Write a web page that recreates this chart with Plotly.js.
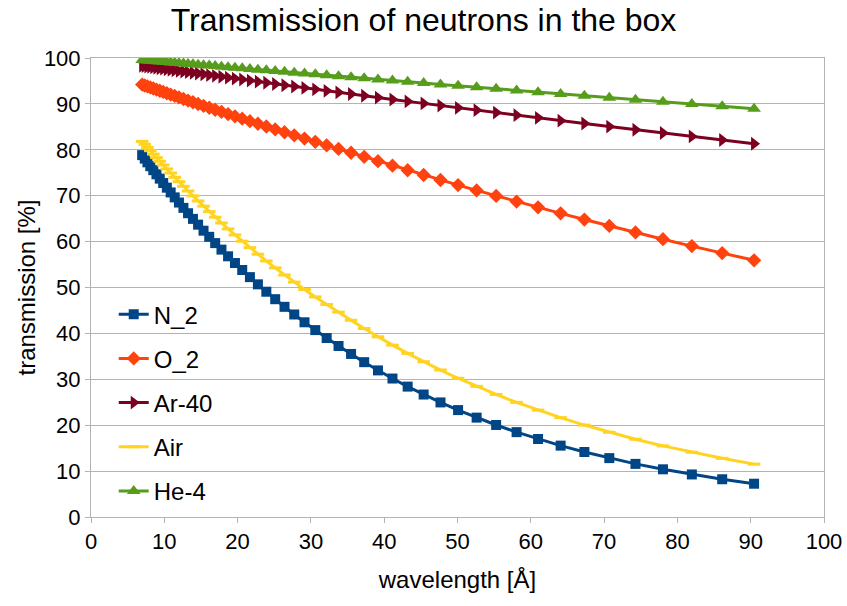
<!DOCTYPE html>
<html>
<head>
<meta charset="utf-8">
<script src="https://cdn.plot.ly/plotly-3.0.1.min.js"></script>
<style>html,body{margin:0;padding:0;background:#fff;}#chart{width:847px;height:606px;}</style>
</head>
<body>
<div id="chart"></div>
<script>
// wavelength [Å]
const wavelength = [6.98, 7.33, 7.70, 8.09, 8.50, 8.93, 9.38, 9.85, 10.35, 10.87,
  11.42, 12.00, 12.61, 13.24, 13.91, 14.61, 15.35, 16.13, 16.94, 17.80,
  18.70, 19.64, 20.63, 21.68, 22.77, 23.92, 25.13, 26.40, 27.73, 29.13,
  30.60, 32.15, 33.77, 35.48, 37.27, 39.15, 41.13, 43.20, 45.38, 47.68,
  50.08, 52.61, 55.27, 58.06, 60.99, 64.07, 67.31, 70.71, 74.28, 78.03,
  81.97, 86.11, 90.46];

// transmission [%]
const n2 = [78.84, 78.08, 77.27, 76.43, 75.56, 74.66, 73.72, 72.76, 71.75, 70.71,
  69.63, 68.51, 67.35, 66.18, 64.95, 63.69, 62.38, 61.04, 59.67, 58.25,
  56.80, 55.33, 53.81, 52.26, 50.69, 49.08, 47.45, 45.79, 44.12, 42.42,
  40.72, 38.99, 37.26, 35.52, 33.73, 31.94, 30.17, 28.41, 26.68, 24.96,
  23.29, 21.65, 20.05, 18.49, 16.99, 15.55, 14.16, 12.83, 11.57, 10.39,
  9.27, 8.22, 7.25];

const o2 = [94.21, 94.01, 93.80, 93.58, 93.35, 93.11, 92.86, 92.60, 92.32, 92.03,
  91.73, 91.41, 91.07, 90.73, 90.36, 89.98, 89.58, 89.16, 88.73, 88.27,
  87.79, 87.30, 86.78, 86.23, 85.67, 85.08, 84.46, 83.82, 83.15, 82.45,
  81.73, 80.97, 80.18, 79.36, 78.46, 77.53, 76.55, 75.55, 74.51, 73.42,
  72.31, 71.16, 69.96, 68.73, 67.46, 66.15, 64.80, 63.41, 61.99, 60.52,
  59.02, 57.49, 55.92];

const ar40 = [98.30, 98.23, 98.14, 98.06, 97.97, 97.87, 97.77, 97.67, 97.56, 97.44,
  97.32, 97.19, 97.06, 96.92, 96.77, 96.62, 96.45, 96.28, 96.11, 95.92,
  95.72, 95.52, 95.31, 95.08, 94.84, 94.60, 94.34, 94.06, 93.78, 93.48,
  93.17, 92.85, 92.50, 92.15, 91.77, 91.38, 90.97, 90.55, 90.10, 89.63,
  89.14, 88.63, 88.10, 87.54, 86.96, 86.35, 85.72, 85.06, 84.38, 83.66,
  82.92, 82.14, 81.33];

const air = [81.84, 81.19, 80.51, 79.81, 79.07, 78.30, 77.51, 76.69, 75.83, 74.94,
  74.01, 73.05, 72.05, 71.03, 69.96, 68.86, 67.72, 66.53, 65.32, 64.06,
  62.77, 61.45, 60.09, 58.68, 57.25, 55.78, 54.27, 52.73, 51.17, 49.57,
  47.95, 46.30, 44.63, 42.86, 41.06, 39.26, 37.44, 35.64, 33.83, 32.02,
  30.23, 28.46, 26.71, 24.98, 23.29, 21.64, 20.03, 18.46, 16.95, 15.50,
  14.11, 12.78, 11.52];

const he4 = [99.56, 99.52, 99.47, 99.41, 99.36, 99.30, 99.24, 99.18, 99.11, 99.04,
  98.97, 98.89, 98.81, 98.72, 98.64, 98.54, 98.44, 98.34, 98.23, 98.12,
  98.00, 97.88, 97.75, 97.61, 97.46, 97.31, 97.15, 96.99, 96.81, 96.63,
  96.44, 96.24, 96.03, 95.80, 95.57, 95.33, 95.08, 94.81, 94.53, 94.24,
  93.93, 93.61, 93.28, 92.93, 92.56, 92.18, 91.78, 91.35, 90.92, 90.46,
  89.98, 89.48, 88.95];

const seriesNames = ["N_2", "O_2", "Ar-40", "Air", "He-4"];
const xTicks = [0, 10, 20, 30, 40, 50, 60, 70, 80, 90, 100];
const yTicks = [0, 10, 20, 30, 40, 50, 60, 70, 80, 90, 100];

const FONT = "Liberation Sans, Arial, sans-serif";
const styles = [
  {color: "#004586", symbol: "square", size: 10},
  {color: "#ff420e", symbol: "diamond", size: 11},
  {color: "#7e0021", symbol: "triangle-right", size: 12},
  {color: "#ffd320", symbol: "line-ew", size: 9},
  {color: "#579d1c", symbol: "triangle-up", size: 12}
];
const values = [n2, o2, ar40, air, he4];

const traces = values.map((ys, i) => {
  const s = styles[i];
  const marker = {color: s.color, symbol: s.symbol, size: s.size};
  if (s.symbol === "line-ew") marker.line = {color: s.color, width: 3};
  else marker.line = {width: 0};
  return {
    type: "scatter", mode: "lines+markers",
    name: seriesNames[i], legendgroup: "g" + i,
    x: wavelength, y: ys,
    line: {color: s.color, width: 3},
    marker: marker
  };
});

const layout = {
  width: 847, height: 606,
  margin: {l: 91, r: 23, t: 58, b: 89},
  paper_bgcolor: "#fff", plot_bgcolor: "#fff",
  font: {family: FONT, color: "#000", size: 22},
  title: {text: "Transmission of neutrons in the box", font: {family: FONT, size: 32, color: "#000"},
          x: 0.5, xref: "container", xanchor: "center", y: 0.968, yref: "container", yanchor: "middle"},
  xaxis: {
    range: [0, 100], tickvals: xTicks, ticktext: xTicks.map(String),
    showgrid: false, zeroline: false,
    showline: true, linecolor: "#b3b3b3", linewidth: 1, mirror: true,
    ticks: "outside", ticklen: 5, tickcolor: "#b3b3b3", tickwidth: 1,
    tickfont: {family: FONT, size: 22, color: "#000"},
    title: {text: "wavelength [Å]", font: {family: FONT, size: 24, color: "#000"}, standoff: 17},
    automargin: false
  },
  yaxis: {
    range: [0, 100], tickvals: yTicks, ticktext: yTicks.map(String),
    showgrid: true, gridcolor: "#b3b3b3", gridwidth: 1, zeroline: false,
    showline: true, linecolor: "#b3b3b3", linewidth: 1, mirror: true,
    ticks: "outside", ticklen: 5, tickcolor: "#b3b3b3", tickwidth: 1,
    tickfont: {family: FONT, size: 22, color: "#000"},
    title: {text: "transmission [%]", font: {family: FONT, size: 24, color: "#000"}, standoff: 1},
    automargin: false
  },
  showlegend: true,
  legend: {
    x: 0.031, y: 0.49, xanchor: "left", yanchor: "top",
    bgcolor: "rgba(0,0,0,0)", borderwidth: 0,
    font: {family: FONT, size: 24, color: "#000"},
    traceorder: "grouped", tracegroupgap: 10, itemwidth: 30
  }
};

Plotly.newPlot("chart", traces, layout, {displayModeBar: false, staticPlot: true});
</script>
</body>
</html>
